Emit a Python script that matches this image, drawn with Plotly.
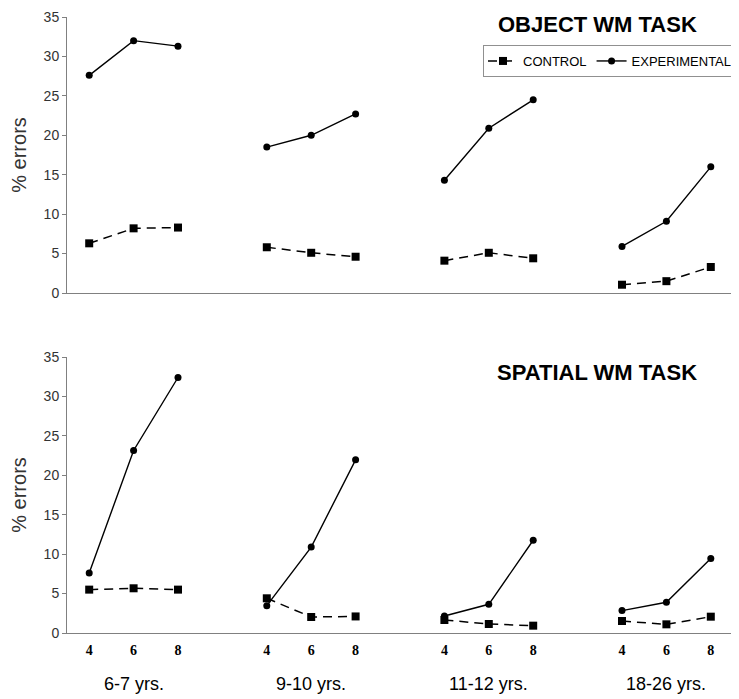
import plotly.graph_objects as go

groups = ["6-7 yrs.", "9-10 yrs.", "11-12 yrs.", "18-26 yrs."]
loads = ["4", "6", "8"]

obj_control = [[6.3, 8.2, 8.3], [5.8, 5.1, 4.6], [4.1, 5.1, 4.4], [1.05, 1.5, 3.3]]
obj_exper = [[27.6, 32.0, 31.3], [18.5, 20.0, 22.7], [14.3, 20.9, 24.5], [5.9, 9.1, 16.0]]
spa_control = [[5.5, 5.67, 5.5], [4.4, 2.03, 2.1], [1.65, 1.14, 0.93], [1.52, 1.1, 2.07]]
spa_exper = [[7.6, 23.15, 32.4], [3.47, 10.9, 21.96], [2.16, 3.64, 11.76], [2.84, 3.9, 9.44]]

fig = go.Figure()

def positions(g):
    return [g * 4 + i for i in range(len(loads))]

def add_panel(ctrl, expr, xa, ya, show):
    for g in range(len(groups)):
        xs = positions(g)
        fig.add_trace(go.Scatter(
            x=xs, y=ctrl[g], mode="lines+markers", name="CONTROL",
            legendgroup="c", showlegend=(show and g == 0),
            line=dict(color="black", width=1.5, dash="9px,6px"),
            marker=dict(symbol="square", size=8, color="black"),
            xaxis=xa, yaxis=ya))
        fig.add_trace(go.Scatter(
            x=xs, y=expr[g], mode="lines+markers", name="EXPERIMENTAL",
            legendgroup="e", showlegend=(show and g == 0),
            line=dict(color="black", width=1.4),
            marker=dict(symbol="circle", size=7, color="black"),
            xaxis=xa, yaxis=ya))

add_panel(obj_control, obj_exper, "x", "y", True)
add_panel(spa_control, spa_exper, "x2", "y2", False)

tickvals = [p for g in range(len(groups)) for p in positions(g)]
ticktext = [loads[i] for g in range(len(groups)) for i in range(len(loads))]

# page has an 8px body margin: figure drawn 8px right/down
OFF = 8
W, H = 739 - OFF, 699 - OFF
L, R = 67 - OFF, 6

def dom(top_px, bot_px):
    return [1 - (bot_px - OFF) / H, 1 - (top_px - OFF) / H]

def px(xp):
    return (xp - OFF - L) / (W - L - R)

def py(yp):
    return 1 - (yp - OFF) / H

yaxis_common = dict(
    range=[0, 35], dtick=5, showline=True, linecolor="#808080", linewidth=1,
    ticks="outside", ticklen=4, tickcolor="#808080", showgrid=False, zeroline=False,
    automargin=True,
    tickfont=dict(family="Arial", size=14, color="#333333"),
    title=dict(text="% errors", font=dict(family="Arial", size=20, color="#333333"), standoff=16),
)
xaxis_common = dict(
    range=[-0.5, 14.5], showline=True, linecolor="#808080", linewidth=1,
    showgrid=False, zeroline=False, ticks="", automargin=False,
)

fig.update_layout(
    width=W, height=H,
    margin=dict(l=L, r=R, t=0, b=0, autoexpand=False),
    plot_bgcolor="white", paper_bgcolor="white",
    xaxis=dict(**xaxis_common, anchor="y", showticklabels=False),
    yaxis=dict(**yaxis_common, domain=dom(17, 293), anchor="x"),
    xaxis2=dict(**xaxis_common, anchor="y2", tickmode="array", tickvals=tickvals,
                ticktext=["<b>%s</b>" % t for t in ticktext], ticklabelstandoff=4,
                tickfont=dict(family="Liberation Serif", size=14, color="black")),
    yaxis2=dict(**yaxis_common, domain=dom(357, 633), anchor="x2"),
    legend=dict(orientation="h", x=px(483), xanchor="left",
                y=py(45), yanchor="top",
                bordercolor="#909090", borderwidth=1, bgcolor="white",
                font=dict(family="Arial", size=13, color="black"),
                itemwidth=30, tracegroupgap=0),
    showlegend=True,
)

fig.add_annotation(text="<b>OBJECT WM TASK</b>", x=px(597), y=py(25), xref="paper", yref="paper",
                   xanchor="center", yanchor="middle",
                   showarrow=False, font=dict(family="Arial", size=22, color="black"))
fig.add_annotation(text="<b>SPATIAL WM TASK</b>", x=px(597), y=py(372), xref="paper", yref="paper",
                   xanchor="center", yanchor="middle",
                   showarrow=False, font=dict(family="Arial", size=22, color="black"))
for g, name in enumerate(groups):
    fig.add_annotation(text=name, x=positions(g)[1], xref="x2", y=py(684), yref="paper",
                       xanchor="center", yanchor="middle",
                       showarrow=False, font=dict(family="Arial", size=18, color="black"))

fig.write_html("out.html")
